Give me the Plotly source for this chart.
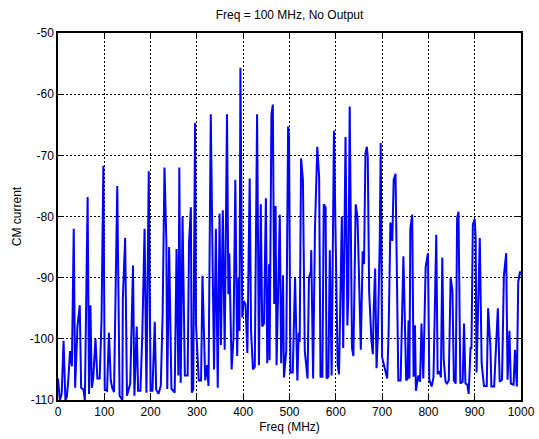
import plotly.graph_objects as go

freq = [0, 4, 8, 12, 16, 19, 22, 26, 30, 34, 37, 42, 47, 50, 55, 58, 64, 67, 70, 73,
        76, 81, 85, 90, 94, 98, 101, 106, 110, 114, 117, 121, 128, 133, 139, 140, 145, 149, 156, 162,
        165, 170, 173, 178, 182, 187, 191, 196, 200, 204, 209, 212, 217, 222, 226, 230, 234, 236, 240, 245,
        247, 252, 256, 260, 262, 265, 269, 272, 274, 280, 283, 287, 289, 292, 296, 298, 304, 309, 312, 318,
        322, 325, 330, 334, 337, 341, 345, 349, 352, 356, 360, 365, 368, 370, 375, 379, 383, 387, 390, 392,
        394, 398, 401, 405, 409, 414, 417, 421, 425, 430, 434, 438, 441, 445, 449, 452, 456, 457, 461, 464,
        467, 470, 472, 479, 482, 486, 488, 493, 497, 499, 502, 507, 512, 517, 520, 522, 525, 529, 533, 539,
        542, 546, 547, 551, 555, 560, 564, 567, 571, 574, 578, 580, 584, 587, 591, 596, 600, 604, 607, 613,
        616, 621, 625, 627, 630, 635, 638, 643, 647, 651, 654, 658, 661, 664, 667, 669, 672, 677, 680, 682,
        685, 688, 691, 695, 697, 700, 707, 711, 714, 718, 722, 725, 729, 731, 735, 740, 746, 752, 755, 757,
        759, 761, 765, 768, 771, 773, 778, 782, 785, 789, 794, 799, 802, 807, 811, 817, 820, 824, 827, 830,
        833, 837, 840, 844, 848, 852, 855, 859, 862, 865, 869, 874, 877, 880, 884, 887, 891, 893, 896, 900,
        902, 904, 911, 915, 920, 926, 929, 934, 936, 942, 946, 950, 954, 959, 963, 968, 971, 975, 978, 984,
        987, 991, 994, 998, 1000]

cm_current = [-106.5, -110, -109, -100.3, -110, -109.5, -107, -102, -104.5, -82, -108, -98, -94.5, -108, -108.3, -110, -76.8, -109, -94.5, -108,
              -106.5, -100, -106.5, -106.5, -97, -71.7, -108.3, -108.5, -99, -106.8, -108, -108.7, -75, -109.3, -110, -93.5, -83.5, -109.3, -107.3, -88,
              -109.3, -98, -108.5, -108.5, -99.5, -82, -108.8, -72.6, -108.5, -108.5, -97.2, -108.3, -109, -107.7, -96, -72, -84, -108.2, -85, -108.2,
              -108.3, -108.8, -85.3, -106, -72, -107.2, -80, -101.5, -106, -106, -84.3, -78.5, -108.8, -108.3, -64.7, -97.5, -106.8, -106.8, -89.7, -106.8,
              -104.3, -107.7, -63.3, -88, -105, -82, -108, -79.5, -101, -79, -101.8, -63.3, -92.7, -86, -105, -100, -74, -102.8, -90, -98.7,
              -55.7, -96.5, -93.8, -94.3, -102.3, -73.8, -98.7, -105, -104.6, -63.3, -104.3, -78, -98, -97.5, -77, -104, -87.8, -103.5, -63.3, -61.7,
              -94.3, -78.3, -104.3, -79.7, -104, -89.6, -106.3, -102, -65.3, -67, -105.5, -105.5, -90, -106.8, -99, -100.5, -70.5, -74, -102, -106.5,
              -90, -89, -85.5, -106.5, -82, -68.6, -73.5, -106.2, -106.2, -78, -78.5, -106.5, -106.2, -85.5, -106, -66, -86.3, -104.3, -105.8, -80,
              -101.5, -67, -97.8, -93.2, -62, -101.5, -102.8, -78, -80.2, -96, -101.8, -85.7, -87.8, -69.7, -68.6, -70.2, -92.2, -100.3, -102.5, -94.8,
              -88.5, -104.8, -99, -83.5, -68, -103, -105.2, -106.5, -99.2, -81, -84, -74, -73, -84, -106.8, -106.8, -86.5, -106.8, -106.5, -97,
              -106.5, -82, -79.7, -106.2, -97.8, -108.5, -106, -107, -97.5, -106.5, -88.3, -86, -106.7, -107.8, -106.3, -83, -105.8, -105.3, -106.3, -86.7,
              -103.3, -107, -107.3, -106.8, -90, -92.2, -106.8, -107.3, -80.3, -79.2, -107.3, -107, -97.5, -107.3, -107.5, -109, -101.5, -101.5, -81.3, -80.4,
              -83.5, -105.5, -83.5, -104, -107.7, -107.7, -95, -101.5, -107.8, -107.8, -100, -95, -107, -106.7, -89.7, -86, -106.7, -98.7, -107.3, -107.5,
              -101.8, -107.8, -90.7, -89, -89.5]

x_ticks = [0, 100, 200, 300, 400, 500, 600, 700, 800, 900, 1000]
x_ticklabels = ["0", "100", "200", "300", "400", "500", "600", "700", "800", "900", "1000"]
y_ticks = [-110, -100, -90, -80, -70, -60, -50]
y_ticklabels = ["-110", "-100", "-90", "-80", "-70", "-60", "-50"]

font_family = "Liberation Sans, Arial, sans-serif"

fig = go.Figure()
fig.add_trace(go.Scatter(x=freq, y=cm_current, mode="lines",
                         line=dict(color="#0000FF", width=2), showlegend=False))

axis_common = dict(
    showline=True, linecolor="black", linewidth=1.5, mirror="ticks",
    ticks="inside", ticklen=5, tickwidth=1, tickcolor="black",
    showgrid=True, gridcolor="black", gridwidth=1, griddash="2px,2px",
    zeroline=False, automargin=False,
    tickfont=dict(family=font_family, size=12, color="black"),
)

fig.update_layout(
    width=539, height=439,
    margin=dict(l=58, r=18, t=33, b=39),
    paper_bgcolor="white", plot_bgcolor="white",
    font=dict(family=font_family, size=12, color="black"),
    title=dict(text="Freq = 100 MHz, No Output", x=0.5, xanchor="center",
               xref="paper", y=1 - 15 / 439, yref="container", yanchor="middle",
               font=dict(family=font_family, size=12, color="black")),
    xaxis=dict(range=[0, 1000], tickvals=x_ticks, ticktext=x_ticklabels,
               title=dict(text="Freq (MHz)", standoff=4,
                          font=dict(family=font_family, size=12, color="black")),
               **axis_common),
    yaxis=dict(range=[-110, -50], tickvals=y_ticks, ticktext=y_ticklabels,
               title=dict(text="CM current", standoff=6,
                          font=dict(family=font_family, size=12, color="black")),
               **axis_common),
)

fig.write_html("out.html")
